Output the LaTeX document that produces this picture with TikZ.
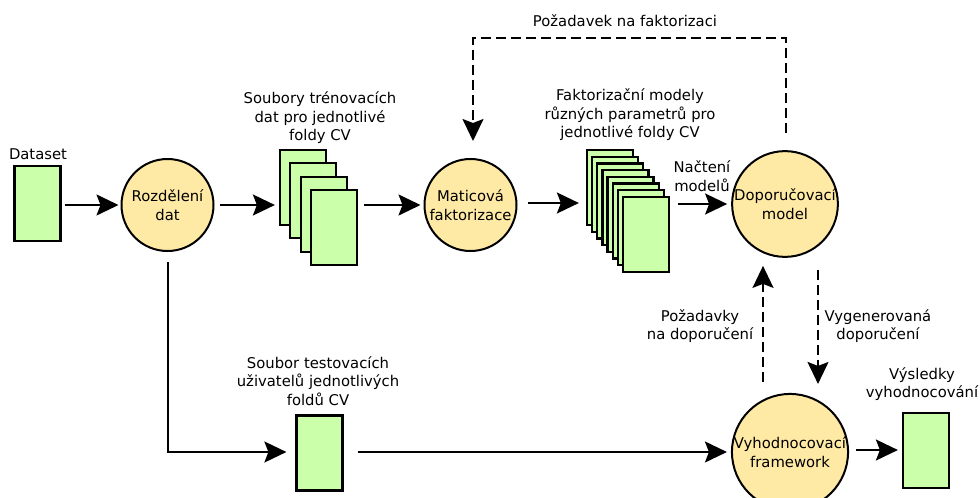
\documentclass[tikz,border=0pt]{standalone}
\usepackage{fontspec}
\setmainfont{DejaVu Sans}
\usetikzlibrary{arrows.meta}
\definecolor{boxgreen}{RGB}{204,255,170}
\definecolor{circyellow}{RGB}{255,234,165}
\begin{document}
\begin{tikzpicture}[x=1pt,y=-1pt,
  every node/.style={font=\fontsize{14.8}{18.5}\selectfont, text=black},
  filebox/.style={draw=black, line width=2.2pt, fill=boxgreen, minimum width=46pt, minimum height=75pt, inner sep=0pt},
  proc/.style={circle, draw=black, line width=2pt, fill=circyellow, minimum size=92pt, inner sep=0pt, align=center},
  lbl/.style={align=center, inner sep=0pt},
  arr/.style={line width=2pt, -{Stealth[length=22pt,width=21pt,inset=4pt]}},
  dashline/.style={line width=2pt, dash pattern=on 10pt off 5pt}
]
\useasboundingbox (0,0) rectangle (980,498);

% single files
\node[filebox] (ds) at (37.5,203.5) {};
\node[lbl] (dsl) at (38,154) {Dataset};
\node[filebox] (test) at (319.5,453) {};
\node[lbl] (testl) at (318,381) {Soubor testovacích\\uživatelů jednotlivých\\foldů CV};
\node[filebox] (res) at (926,450.5) {};
\node[lbl] (resl) at (922,384) {Výsledky\\vyhodnocování};

% training stack
\foreach \i in {0,...,3}{
  \node[filebox] (t\i) at ({303+10.3*\i},{187.5+13.3*\i}) {};
}
\node[lbl] (tl) at (320,118) {Soubory trénovacích\\dat pro jednotlivé\\foldy CV};

% model stack
\foreach \i in {0,...,7}{
  \node[filebox] (m\i) at ({610+5.14*\i},{187.5+6.71*\i}) {};
}
\node[lbl] (ml) at (630,115) {Faktorizační modely\\různých parametrů pro\\jednotlivé foldy CV};

% processes
\node[proc] (roz) at (167.5,205) {Rozdělení\\dat};
\node[proc] (mat) at (470.5,205) {Maticová\\faktorizace};
\node[proc] (dop) at (785,204) {Doporučovací\\model};
\node[proc] (fw) at (790,452) {Vyhodnocovací\\framework};

% labels on connectors
\node[lbl] (nl) at (702,176) {Načtení\\modelů};
\node[lbl] (pfl) at (625,21) {Požadavek na faktorizaci};
\node[lbl] (pdl) at (700,326) {Požadavky\\na doporučení};
\node[lbl] (vdl) at (878,326) {Vygenerovaná\\doporučení};

% connectors
\draw[arr] ([xshift=3pt]ds.east |- roz.west) -- ([xshift=-2pt]roz.west);
\draw[arr] ([xshift=5pt]roz.east) -- ([xshift=-4pt]roz.east -| t0.west);
\draw[arr] ([xshift=6pt]mat.west -| t3.east) -- ([xshift=-3pt]mat.west);
\draw[arr] ([xshift=10pt,yshift=2pt]mat.east) -- ([xshift=-7pt,yshift=2pt]mat.east -| m0.west);
\draw[arr] ([xshift=8pt]dop.west -| m7.east) -- ([xshift=-4pt]dop.west);
\draw[arr] ([yshift=-10pt]roz.south) |- ([xshift=-9pt]test.west |- fw.west);
\draw[arr] ([xshift=14pt]test.east |- fw.west) -- ([xshift=-4pt]fw.west);
\draw[arr] ([xshift=7pt,yshift=2pt]fw.east) -- ([xshift=-4pt,yshift=2pt]fw.east -| res.west);

% dashed connectors
\coordinate (ctr) at ([xshift=1pt]dop.north |- 0,38);
\coordinate (ctl) at ([xshift=2.5pt]mat.north |- 0,38);
\draw[dashline] ([xshift=1pt,yshift=17pt]dop.north) -- (ctr) -- (ctl) -- ([xshift=2.5pt,yshift=24pt]mat.north);
\draw[arr] ([xshift=2.5pt,yshift=32pt]mat.north) -- ([xshift=2.5pt,yshift=17pt]mat.north);
\draw[dashline] ([xshift=-27pt,yshift=11pt]fw.north) -- ([xshift=-27pt,yshift=-24pt]fw.north |- dop.south);
\draw[arr] ([xshift=-27pt,yshift=-26pt]fw.north |- dop.south) -- ([xshift=-27pt,yshift=-8pt]fw.north |- dop.south);
\draw[dashline] ([xshift=28pt,yshift=-12pt]fw.north |- dop.south) -- ([xshift=28pt,yshift=24pt]fw.north);
\draw[arr] ([xshift=28pt,yshift=26pt]fw.north) -- ([xshift=28pt,yshift=9pt]fw.north);
\end{tikzpicture}
\end{document}
